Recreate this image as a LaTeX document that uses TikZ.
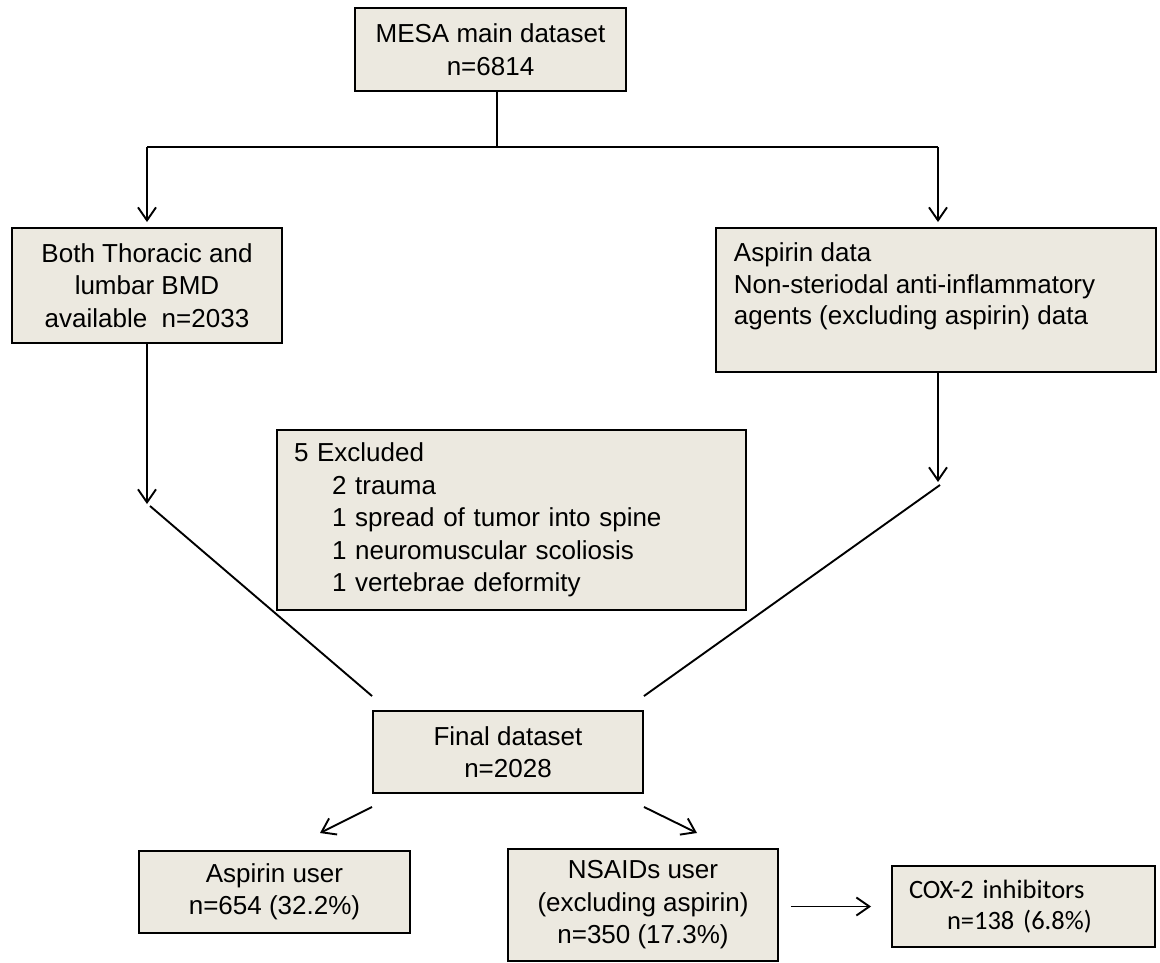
\documentclass[tikz,border=0pt]{standalone}
\usepackage{fontspec}
\setmainfont{Liberation Sans}
\newfontfamily\calibri{Carlito}
\usepackage{tikz}
\usetikzlibrary{arrows.meta}
\usetikzlibrary{positioning}
\definecolor{Box}{RGB}{236,233,224}
\tikzset{
  box/.style={draw=black, fill=Box, line width=1.9pt, inner sep=0pt, align=center,
    font=\fontsize{26}{32.5}\selectfont},
  arr/.style={-{Straight Barb[length=13pt,width=18pt,line width=1.9pt]}},
}

\begin{document}
\begin{tikzpicture}[x=1pt, y=-1pt, line width=1.9pt]
    \useasboundingbox (0,0) rectangle (1160,963);

    \node[box, minimum width=271pt, minimum height=83pt] (mesa) at (490.5,49.5) {MESA main dataset\\n=6814};
    \node[box, minimum width=270pt, minimum height=115pt] (thor) at (147,285.5) {Both Thoracic and\\lumbar BMD\\available~~n=2033};
    \node[box, minimum width=440pt, minimum height=144pt] (aspbox) at (936,300) {};
    \node[anchor=north west, align=left, inner sep=0pt, font=\fontsize{26}{31.5}\selectfont] (asptext) at (733,242)
        {Aspirin data\\Non-steriodal anti-inflammatory\\agents (excluding aspirin) data};
    \node[box, align=left, text width=435pt, inner xsep=17pt, minimum height=180pt] (excl) at (511.5,520)
        {5 Excluded\\\hspace*{38pt}2 trauma\\\hspace*{38pt}1 spread of tumor into spine\\\hspace*{38pt}1 neuromuscular scoliosis\\\hspace*{38pt}1 vertebrae deformity};
    \node[box, minimum width=270pt, minimum height=82pt] (final) at (508,752) {Final dataset\\n=2028};
    \node[box, minimum width=271pt, minimum height=82pt] (auser) at (274.5,892) {Aspirin user\\n=654 (32.2\%)};
    \node[box, minimum width=270pt, minimum height=112pt] (nsaid) at (643,905) {NSAIDs user\\(excluding aspirin)\\n=350 (17.3\%)};
    \node[box, align=left, text width=229pt, inner xsep=17pt, minimum height=81pt,
        font=\calibri\fontsize{26.5}{31}\selectfont] (cox) at (1023.5,906.5) {COX-2 inhibitors\\\hspace*{38pt}n=138 (6.8\%)};

    % split points and meeting points
    \coordinate (split) at (497,147);
    \coordinate (lsplit) at (147,147);
    \coordinate (rsplit) at (938,147);
    \coordinate (lmeet) at (147,504);
    \coordinate (rmeet) at (938,482);
    \coordinate (autip) at (320,833);
    \coordinate (nstip) at (697,833);

    % edges
    \draw (mesa.south -| split) -- (split);
    \draw (lsplit) -- (rsplit);
    \draw[arr, shorten >=5pt] (lsplit) -- (thor.north);
    \draw[arr, shorten >=5pt] (rsplit) -- (rsplit |- aspbox.north);
    \draw[arr] (thor.south) -- (lmeet);
    \draw[arr] (aspbox.south -| rmeet) -- (rmeet);
    \draw ([shift={(3,2)}]lmeet) -- ([shift={(0,-14)}]final.north west);
    \draw ([shift={(2,3)}]rmeet) -- ([shift={(0,-14)}]final.north east);
    \draw[arr] ([shift={(0,13)}]final.south west) -- (autip);
    \draw[arr] ([shift={(0,13)}]final.south east) -- (nstip);
    \draw[arr, shorten <=12pt, shorten >=20pt] (nsaid.east |- cox.west) -- (cox.west);
\end{tikzpicture}
\end{document}
